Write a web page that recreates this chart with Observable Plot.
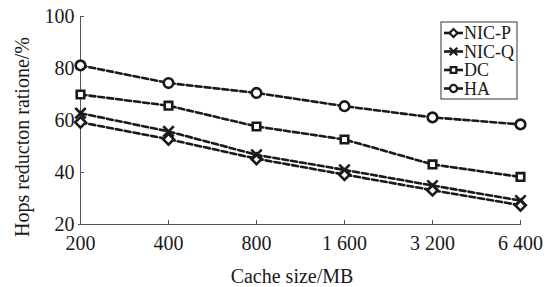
<!DOCTYPE html>
<html><head><meta charset="utf-8">
<script src="https://cdn.jsdelivr.net/npm/d3@7"></script>
<script src="https://cdn.jsdelivr.net/npm/@observablehq/plot@0.6"></script>
<style>
html,body{margin:0;padding:0;background:#fff;}
#chart{position:relative;width:557px;height:287px;}
</style>
</head><body><div id="chart"></div>
<script>
const sizes = ["200","400","800","1 600","3 200","6 400"];
const seriesNames = ["NIC-P","NIC-Q","DC","HA"];
const nicP = [59.3, 52.8, 45.3, 39.2, 33.2, 27.4];
const nicQ = [62.8, 55.8, 46.8, 41.0, 35.0, 29.2];
const dc   = [70.0, 65.7, 57.7, 52.7, 43.1, 38.3];
const ha   = [81.2, 74.4, 70.6, 65.5, 61.2, 58.5];
const yTicks = [20, 40, 60, 80, 100];
const xTitle = "Cache size/MB";
const yTitle = "Hops reducton ratione/%";
const symbols = {"NIC-P":"diamond2","NIC-Q":"times","DC":"square2","HA":"circle"};

const values = {"NIC-P": nicP, "NIC-Q": nicQ, "DC": dc, "HA": ha};
const data = seriesNames.flatMap(s => sizes.map((x, i) => ({series: s, x, y: values[s][i]})));

const font = "Liberation Serif, Times New Roman, serif";
const ink = "#1a1a1a";

const plot = Plot.plot({
  width: 557, height: 287,
  marginLeft: 78, marginRight: 36, marginTop: 16, marginBottom: 63,
  style: {fontFamily: font, fontSize: "20px", color: ink, background: "#fff"},
  x: {type: "point", domain: sizes, padding: 0},
  y: {domain: [20, 100]},
  symbol: {domain: seriesNames, range: seriesNames.map(s => symbols[s])},
  marks: [
    Plot.ruleX([sizes[0]], {y1: 20, y2: 100, stroke: "#555", strokeWidth: 1}),
    Plot.ruleY([20], {stroke: "#555", strokeWidth: 1}),
    Plot.axisY(yTicks, {tickSize: 0, tickPadding: 4, label: null, fontSize: 20}),
    Plot.ruleY(yTicks, {x1: () => sizes[0], x2: () => sizes[0], insetRight: -4, stroke: "#555"}),
    Plot.axisX(sizes, {tickSize: 0, tickPadding: 11, label: null, fontSize: 20}),
    Plot.ruleX(sizes.slice(1), {y1: 20, y2: 21.6, stroke: "#555"}),
    Plot.line(data, {x: "x", y: "y", z: "series", stroke: ink, strokeWidth: 2.6, strokeDasharray: "6,3"}),
    Plot.dot(data, {x: "x", y: "y", symbol: "series", r: 4.8, stroke: ink, strokeWidth: 2.6, fill: "#fff"})
  ]
});
document.getElementById("chart").appendChild(plot);

const svg = d3.select(plot);
// axis titles
svg.append("text").attr("x", 292).attr("y", 276).attr("dy", "0.35em").attr("text-anchor", "middle")
   .attr("font-family", font).attr("font-size", 20).attr("fill", ink).text(xTitle);
svg.append("text").attr("transform", "translate(22,137) rotate(-90)").attr("dy", "0.35em").attr("text-anchor", "middle")
   .attr("font-family", font).attr("font-size", 20).attr("fill", ink).text(yTitle);

// legend inside the plot area
const lg = svg.append("g").attr("transform", "translate(441,22)");
lg.append("rect").attr("width", 76).attr("height", 77).attr("fill", "#fff").attr("stroke", "#555").attr("stroke-width", 1.2);
const symGen = {"NIC-P": d3.symbolDiamond2, "NIC-Q": d3.symbolTimes, "DC": d3.symbolSquare2, "HA": d3.symbolCircle};
seriesNames.forEach((s, i) => {
  const yy = 11 + i * 18.5;
  const row = lg.append("g").attr("transform", `translate(0,${yy})`);
  row.append("line").attr("x1", 3).attr("x2", 22).attr("stroke", ink).attr("stroke-width", 2.6);
  row.append("path").attr("d", d3.symbol(symGen[s], 40)()).attr("transform", "translate(12.5,0)")
     .attr("fill", "#fff").attr("stroke", ink).attr("stroke-width", 2.2);
  row.append("text").attr("x", 23).attr("dy", "0.35em").attr("text-anchor", "start")
     .attr("font-family", font).attr("font-size", 18).attr("fill", ink).text(s);
});
</script>
</body></html>
